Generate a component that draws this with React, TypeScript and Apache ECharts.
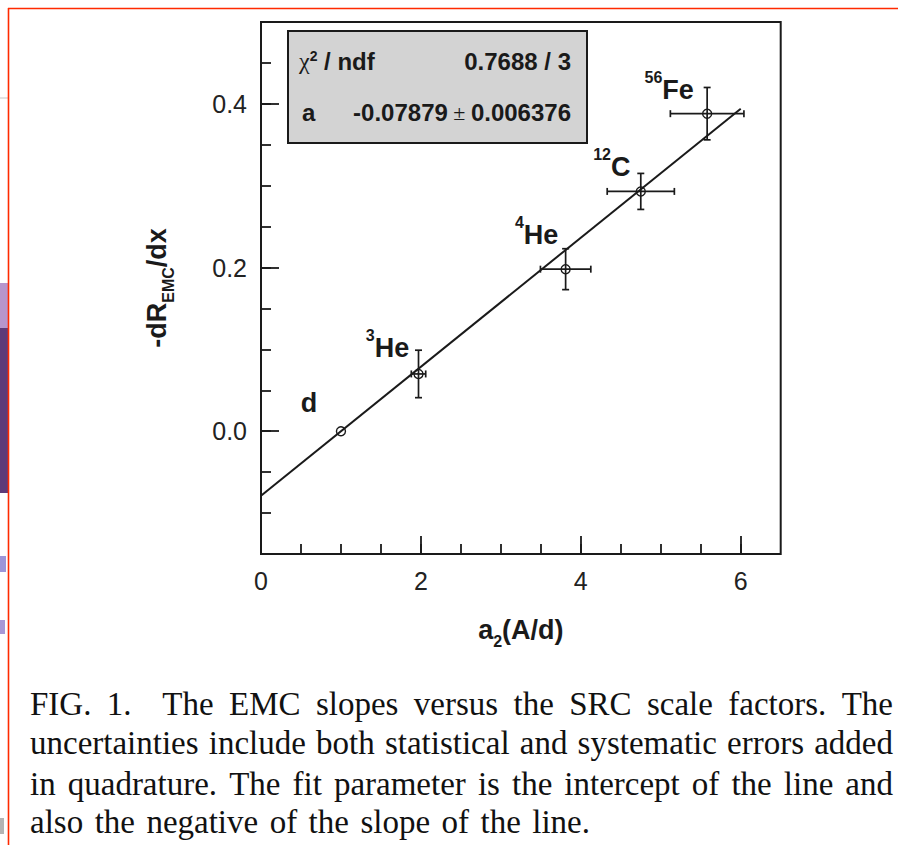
import React, { useEffect, useRef } from "react";
import * as echarts from "echarts";

// ---------- data ----------
const pointNames = ["d", "He", "He", "C", "Fe"];
const pointMass = ["", "3", "4", "12", "56"];
const xValues = [1.0, 1.97, 3.81, 4.75, 5.58];
const yValues = [0.0, 0.070, 0.198, 0.293, 0.388];
const xErrors = [0.0, 0.09, 0.315, 0.42, 0.46];
const yErrors = [0.0, 0.029, 0.025, 0.022, 0.032];
const fitX = [0, 6];
const fitY = [-0.0788, 0.394];
const xTickLabels = [0, 2, 4, 6];
const yTickLabels = [0.0, 0.2, 0.4];
const statNames = ["χ² / ndf", "a"];
const statValues = ["0.7688 / 3", "-0.07879 ± 0.006376"];
const captionLines = [
  "FIG. 1.  The EMC slopes versus the SRC scale factors. The",
  "uncertainties include both statistical and systematic errors added",
  "in quadrature. The fit parameter is the intercept of the line and",
  "also the negative of the slope of the line.",
];

// ---------- presentation ----------
const INK = "#1a1a1a";
const SANS = '"Liberation Sans", Arial, Helvetica, sans-serif';
const SERIF = '"Liberation Serif", "Times New Roman", serif';
// label centre relative to the point centre (pixels)
const labelOffsets = [
  [-32, -31],
  [-31, -29],
  [-29, -37],
  [-29, -27],
  [-38, -26],
];
const SYMBOL = 9;
const CAP_FONT = 33;
const CAP_LEFT = 30;
const captionRight = [893, 893, 893, 590];
const captionY = [704, 743, 784, 822];

function near(v: number, list: number[]) {
  return list.some((t) => Math.abs(v - t) < 1e-6);
}

function captionElements() {
  const canvas = document.createElement("canvas");
  const ctx = canvas.getContext("2d") as CanvasRenderingContext2D;
  ctx.font = `${CAP_FONT}px ${SERIF}`;
  const els: any[] = [];
  captionLines.forEach((line, i) => {
    const words = line.split(" ");
    const widths = words.map((w) => (w ? ctx.measureText(w).width : 0));
    const total = widths.reduce((a, b) => a + b, 0);
    const gap = (captionRight[i] - CAP_LEFT - total) / (words.length - 1);
    let x = CAP_LEFT;
    words.forEach((w, j) => {
      if (w) {
        els.push({
          type: "text",
          x,
          y: captionY[i],
          style: {
            text: w,
            fontSize: CAP_FONT,
            fontFamily: SERIF,
            fill: "#111111",
            textAlign: "left",
            textVerticalAlign: "middle",
            align: "left",
            verticalAlign: "middle",
          },
        });
      }
      x += widths[j] + gap;
    });
  });
  return els;
}

function buildOption() {
  const boxText = (text: string, x: number, y: number, align: string, rich?: any) => ({
    type: "text",
    x,
    y,
    style: {
      text,
      fontSize: 24,
      fontWeight: "bold",
      fontFamily: SANS,
      fill: INK,
      textAlign: align,
      textVerticalAlign: "middle",
      align,
      verticalAlign: "middle",
      rich,
    },
    z: 20,
  });
  const boxRich = {
    b: { fontSize: 24, fontWeight: "bold", fontFamily: SANS, color: INK },
    chi: { fontSize: 24, fontFamily: SERIF, color: INK },
    sup: { fontSize: 14, fontWeight: "bold", fontFamily: SANS, color: INK, verticalAlign: "top", lineHeight: 16 },
    pm: { fontSize: 22, fontFamily: SERIF, color: INK },
  };

  const decor: any[] = [
    { type: "line", shape: { x1: 8, y1: 8.5, x2: 898, y2: 8.5 }, style: { stroke: "#ff2a00", lineWidth: 1.6 }, z: 30 },
    { type: "line", shape: { x1: 8.5, y1: 8, x2: 8.5, y2: 845 }, style: { stroke: "#ff2a00", lineWidth: 1.6 }, z: 30 },
    { type: "line", shape: { x1: 0, y1: 98, x2: 8, y2: 98 }, style: { stroke: "#d8d8d8", lineWidth: 1.5 } },
    { type: "rect", shape: { x: 0, y: 283, width: 8, height: 45 }, style: { fill: "#b795cc" } },
    { type: "rect", shape: { x: 0, y: 328, width: 8, height: 165 }, style: { fill: "#5f3a78" } },
    { type: "rect", shape: { x: 0, y: 556, width: 6, height: 16 }, style: { fill: "#9d95d8" } },
    { type: "rect", shape: { x: 0, y: 620, width: 5, height: 14 }, style: { fill: "#a898d6" } },
    { type: "rect", shape: { x: 0, y: 818, width: 4, height: 16 }, style: { fill: "#b4b4b4" } },
  ];

  const statBox: any[] = [
    { type: "rect", shape: { x: 288, y: 31, width: 299, height: 112 }, style: { fill: "#d3d3d3", stroke: INK, lineWidth: 2 }, z: 19 },
    boxText("{chi|χ}{sup|2}{b| / ndf}", 299, 61, "left", boxRich),
    boxText(statValues[0], 571, 61, "right"),
    boxText(statNames[1], 302, 112, "left"),
    boxText(
      (() => {
        const parts = statValues[1].split("±");
        return `{b|${parts[0].trim()}}{pm| ± }{b|${parts[1].trim()}}`;
      })(),
      571,
      112,
      "right",
      boxRich
    ),
  ];

  const tickLine = { color: INK, width: 1.8 };
  const labelStyle = { fontSize: 25, fontFamily: SANS, color: "#222" };
  const nameRich = {
    m: { fontSize: 27, fontWeight: "bold", fontFamily: SANS, color: INK, lineHeight: 30, verticalAlign: "top" },
    s: { fontSize: 16, fontWeight: "bold", fontFamily: SANS, color: INK, lineHeight: 50, verticalAlign: "middle" },
  };
  const hiddenLine = { show: false, onZero: false };

  return {
    animation: false,
    backgroundColor: "#ffffff",
    grid: {
      left: 261,
      top: 22,
      width: 519.7,
      height: 532,
      show: true,
      borderColor: INK,
      borderWidth: 2,
      containLabel: false,
    },
    xAxis: [
      {
        type: "value",
        min: 0,
        max: 6.5,
        interval: 0.5,
        axisLine: hiddenLine,
        splitLine: { show: false },
        axisTick: { show: true, inside: true, length: 10, lineStyle: tickLine },
        axisLabel: {
          ...labelStyle,
          margin: 14,
          showMaxLabel: false,
          formatter: (v: number) => (near(v, xTickLabels) ? String(Math.round(v)) : ""),
        },
        name: "{m|a}{s|2}{m|(A/d)}",
        nameLocation: "middle",
        nameGap: 62,
        nameTextStyle: { rich: nameRich },
      },
      {
        type: "value",
        min: 0,
        max: 6.5,
        position: "bottom",
        axisLine: hiddenLine,
        splitLine: { show: false },
        axisLabel: { show: false },
        axisTick: { show: true, inside: true, length: 18, lineStyle: tickLine, customValues: xTickLabels },
      },
    ],
    yAxis: [
      {
        type: "value",
        min: -0.15,
        max: 0.5,
        interval: 0.05,
        axisLine: hiddenLine,
        splitLine: { show: false },
        axisTick: { show: true, inside: true, length: 10, lineStyle: tickLine },
        axisLabel: {
          ...labelStyle,
          margin: 14,
          showMinLabel: false,
          formatter: (v: number) => (near(v, yTickLabels) ? v.toFixed(1) : ""),
        },
        name: "{m|-dR}{s|EMC}{m|/dx}",
        nameLocation: "middle",
        nameGap: 68,
        nameRotate: 90,
        nameTextStyle: { rich: nameRich },
      },
      {
        type: "value",
        min: -0.15,
        max: 0.5,
        position: "left",
        axisLine: hiddenLine,
        splitLine: { show: false },
        axisLabel: { show: false },
        axisTick: { show: true, inside: true, length: 18, lineStyle: tickLine, customValues: yTickLabels },
      },
    ],
    series: [
      {
        type: "line",
        data: fitX.map((x, i) => [x, fitY[i]]),
        showSymbol: false,
        symbol: "none",
        lineStyle: { color: INK, width: 2 },
        silent: true,
        z: 2,
      },
      {
        type: "scatter",
        symbol: "circle",
        symbolSize: SYMBOL,
        itemStyle: { color: "rgba(0,0,0,0)", borderColor: INK, borderWidth: 1.4, opacity: 1 },
        data: xValues.map((x, i) => ({
          value: [x, yValues[i]],
          name: pointNames[i],
          label: { offset: [labelOffsets[i][0], labelOffsets[i][1] + SYMBOL / 2] },
        })),
        label: {
          show: true,
          position: "top",
          distance: 0,
          align: "center",
          verticalAlign: "middle",
          color: INK,
          textBorderWidth: 0,
          formatter: (p: any) =>
            pointMass[p.dataIndex]
              ? `{sup|${pointMass[p.dataIndex]}}{main|${pointNames[p.dataIndex]}}`
              : `{main|${pointNames[p.dataIndex]}}`,
          rich: {
            main: {
              fontSize: 27, fontWeight: "bold", fontFamily: SANS, color: INK, lineHeight: 34,
              verticalAlign: "bottom",
            },
            sup: {
              fontSize: 16, fontWeight: "bold", fontFamily: SANS, color: INK, lineHeight: 26,
              verticalAlign: "top",
            },
          },
        },
        z: 3,
      },
      {
        type: "custom",
        data: xValues.map((x, i) => [x, yValues[i], xErrors[i], yErrors[i]]),
        encode: { x: 0, y: 1 },
        renderItem: (_params: any, api: any) => {
          const x = api.value(0);
          const y = api.value(1);
          const ex = api.value(2);
          const ey = api.value(3);
          const style = { stroke: INK, lineWidth: 1.7, fill: null };
          const cap = 3.5;
          const children: any[] = [];
          if (ex > 0) {
            const l = api.coord([x - ex, y]);
            const r = api.coord([x + ex, y]);
            children.push({ type: "line", shape: { x1: l[0], y1: l[1], x2: r[0], y2: r[1] }, style });
            children.push({ type: "line", shape: { x1: l[0], y1: l[1] - cap, x2: l[0], y2: l[1] + cap }, style });
            children.push({ type: "line", shape: { x1: r[0], y1: r[1] - cap, x2: r[0], y2: r[1] + cap }, style });
          }
          if (ey > 0) {
            const t = api.coord([x, y + ey]);
            const b = api.coord([x, y - ey]);
            children.push({ type: "line", shape: { x1: t[0], y1: t[1], x2: b[0], y2: b[1] }, style });
            children.push({ type: "line", shape: { x1: t[0] - cap, y1: t[1], x2: t[0] + cap, y2: t[1] }, style });
            children.push({ type: "line", shape: { x1: b[0] - cap, y1: b[1], x2: b[0] + cap, y2: b[1] }, style });
          }
          return { type: "group", children };
        },
        silent: true,
        z: 4,
      },
    ],
    graphic: { elements: [...decor, ...statBox, ...captionElements()] },
  };
}

export default function App() {
  const ref = useRef<HTMLDivElement>(null);
  useEffect(() => {
    if (!ref.current) return;
    const chart = echarts.init(ref.current, null, { renderer: "svg" });
    chart.setOption(buildOption() as any);
    return () => chart.dispose();
  }, []);
  return (
    <div
      ref={ref}
      style={{ position: "absolute", left: 0, top: 0, width: 898, height: 845, background: "#fff" }}
    />
  );
}
